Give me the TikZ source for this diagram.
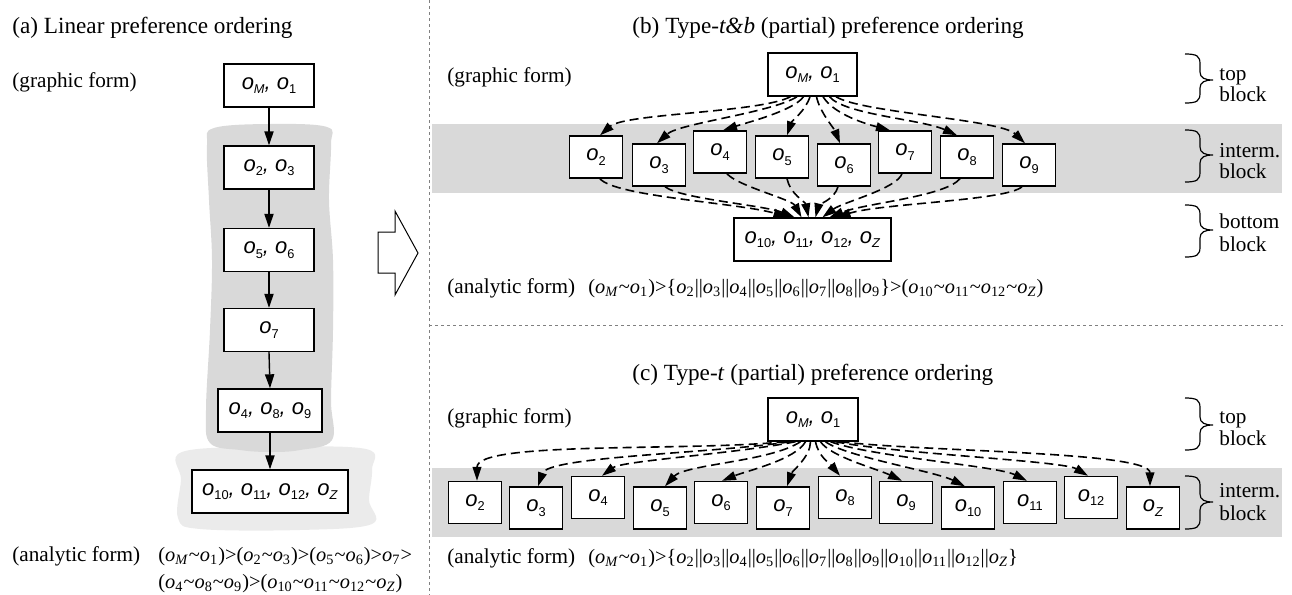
\documentclass[tikz,border=0pt]{standalone}
\usepackage{fontspec}
\setmainfont{Liberation Serif}
\newfontfamily\boxfont{Liberation Sans}
\usetikzlibrary{arrows.meta,calc}
\newdimen\pxu \pxu=0.5pt
\newcommand\bo[1]{\textit{o}\textsubscript{#1}}
\newcommand\so[1]{o\raisebox{-0.2em}{\fontsize{6.4}{7}\selectfont\upshape #1}}
\newcommand\tld{\textasciitilde}
\newcommand\rbr[4]{%
 \draw[line width=0.6pt] (#1,#2) .. controls ({#1+12},#2) and ({#1+15},{#2+2}) .. ({#1+15},{#2+10}) -- ({#1+15},{#4-8}) .. controls ({#1+15},{#4-2}) and ({#1+20},#4) .. ({#1+28},#4) .. controls ({#1+20},#4) and ({#1+15},{#4+2}) .. ({#1+15},{#4+8}) -- ({#1+15},{#3-10}) .. controls ({#1+15},{#3-2}) and ({#1+12},#3) .. (#1,#3);}
\definecolor{band}{HTML}{D9D9D9}
\definecolor{lband}{HTML}{EBEBEB}
\begin{document}
\begin{tikzpicture}[x=0.5pt,y=-0.5pt,
  font=\fontsize{10.6}{12.7}\selectfont,
  box/.style={draw, line width=0.7pt, fill=white, inner sep=0pt, minimum height=43\pxu,
     font=\boxfont\itshape\fontsize{11}{13}\selectfont},
  sbox/.style={box, minimum width=53\pxu, minimum height=42\pxu},
  sedge/.style={line width=0.7pt, -{Triangle[length=7pt,width=4.6pt]}},
  dedge/.style={line width=0.8pt, dash pattern=on 4.5pt off 2.5pt, -{Triangle[length=7pt,width=4.4pt]}},
  sepline/.style={draw=gray, line width=0.5pt, dash pattern=on 1.5pt off 1.5pt},
  lbl/.style={anchor=base west, inner sep=0pt},
  ttl/.style={lbl, font=\fontsize{11.6}{14}\selectfont},
  frm/.style={lbl, font=\fontsize{10.2}{12}\selectfont}]
\useasboundingbox (0,0) rectangle (1292,595);
% ---------- separators
\draw[sepline] (429,0) -- (429,595);
\draw[sepline] (429,325) -- (1283,325);
% ---------- (a)
\node[ttl] (ta) at (12,33) {(a) Linear preference ordering};
\node[lbl] (ga) at (12,87) {(graphic form)};
\fill[lband] plot[smooth cycle, tension=0.6] coordinates {(182,452) (270,447) (366,449) (372,470) (369,500) (372,524) (300,530) (200,529) (178,518) (181,480)};
\fill[band] plot[smooth cycle, tension=0.6] coordinates {(214,128) (270,124) (327,127) (331,145) (329,200) (333,260) (333,330) (331,400) (332,440) (300,450) (270,452) (240,450) (210,443) (206,410) (210,330) (212,260) (209,200) (207,145)};
\node[box, minimum width=90\pxu] (a1) at (269,85.5) {\so{\textit{M}}, \so{1}};
\node[box, minimum width=90\pxu] (a2) at (269,167.5) {\so{2}, \so{3}};
\node[box, minimum width=90\pxu] (a3) at (269,250) {\so{5}, \so{6}};
\node[box, minimum width=90\pxu] (a4) at (269,330) {\so{7}};
\node[box, minimum width=104\pxu] (a5) at (270,410.5) {\so{4}, \so{8}, \so{9}};
\node[box, minimum width=156\pxu] (a6) at (270,491.5) {\so{10}, \so{11}, \so{12}, \so{\textit{Z}}};
\draw[sedge] (a1.south) -- (a2.north);
\draw[sedge] (a2.south) -- (a3.north);
\draw[sedge] (a3.south) -- (a4.north);
\draw[sedge] (a4.south) -- (a5.north);
\draw[sedge] (a5.south) -- (a6.north);
\node[lbl] (aa) at (12,561) {(analytic form)};
\node[frm] (fa1) at (158,561) {(\bo{\textit{M}}\tld\bo{1})>(\bo{2}\tld\bo{3})>(\bo{5}\tld\bo{6})>\bo{7}>};
\node[frm] (fa2) at (158,588) {(\bo{4}\tld\bo{8}\tld\bo{9})>(\bo{10}\tld\bo{11}\tld\bo{12}\tld\bo{\textit{Z}})};
% hollow arrow
\draw[line width=0.5pt] (378,232) -- (395,232) -- (395,211) -- (418,253) -- (395,295) -- (395,273) -- (378,273) -- cycle;
% ---------- (b)
\fill[band] (432,124) rectangle (1282,193);
\node[ttl] (tbt) at (632,33) {(b) Type-\textit{t\&b} (partial) preference ordering};
\node[lbl] (gb) at (447,82) {(graphic form)};
\node[box, minimum width=89\pxu] (tb) at (812.5,74.5) {\so{\textit{M}}, \so{1}};
\node[sbox] (b2) at (596,157) {\so{2}};
\node[sbox] (b3) at (659,165) {\so{3}};
\node[sbox] (b4) at (720,152) {\so{4}};
\node[sbox] (b5) at (782,157) {\so{5}};
\node[sbox] (b6) at (844,165) {\so{6}};
\node[sbox] (b7) at (905,152) {\so{7}};
\node[sbox] (b8) at (967,157) {\so{8}};
\node[sbox] (b9) at (1029,165) {\so{9}};
\node[box, minimum width=157\pxu] (bb) at (812.5,239.5) {\so{10}, \so{11}, \so{12}, \so{\textit{Z}}};
\draw[dedge] ($(tb.south)+(-22,0)$) .. controls +(-30,16) and +(25,-22) .. ($(b2.north)+(4,0)$);
\draw[dedge] ($(tb.south)+(-15.5,0)$) .. controls +(-25,16) and +(22,-20) .. ($(b3.north)+(-2,0)$);
\draw[dedge] ($(tb.south)+(-9,0)$) .. controls +(-10,14) and +(25,-8) .. ($(b4.north)+(3,0)$);
\draw[dedge] ($(tb.south)+(-2.5,0)$) .. controls +(-5,15) and +(5,-15) .. ($(b5.north)+(5,0)$);
\draw[dedge] ($(tb.south)+(4,0)$) .. controls +(3,15) and +(-6,-15) .. ($(b6.north)+(-4,0)$);
\draw[dedge] ($(tb.south)+(10.5,0)$) .. controls +(10,16) and +(-30,-8) .. ($(b7.north)+(-15,0)$);
\draw[dedge] ($(tb.south)+(17,0)$) .. controls +(15,18) and +(-35,-16) .. ($(b8.north)+(-10,0)$);
\draw[dedge] ($(tb.south)+(23.5,0)$) .. controls +(25,16) and +(-25,-24) .. ($(b9.north)+(-4,0)$);
\draw[dedge] ($(b2.south)+(4,0)$) .. controls +(15,18) and +(-45,-14) .. ($(bb.north)+(-25,0)$);
\draw[dedge] ($(b3.south)+(6,0)$) .. controls +(15,12) and +(-30,-12) .. ($(bb.north)+(-18,0)$);
\draw[dedge] ($(b4.south)+(7,0)$) .. controls +(10,12) and +(-10,-18) .. ($(bb.north)+(-11,0)$);
\draw[dedge] ($(b5.south)+(5,0)$) .. controls +(3,15) and +(-3,-15) .. ($(bb.north)+(-4,0)$);
\draw[dedge] ($(b6.south)+(-6,0)$) .. controls +(-3,12) and +(3,-12) .. ($(bb.north)+(3,0)$);
\draw[dedge] ($(b7.south)+(-3,0)$) .. controls +(-5,15) and +(20,-15) .. ($(bb.north)+(10,0)$);
\draw[dedge] ($(b8.south)+(-7,0)$) .. controls +(-15,18) and +(35,-14) .. ($(bb.north)+(17,0)$);
\draw[dedge] ($(b9.south)+(-7,0)$) .. controls +(-15,14) and +(45,-14) .. ($(bb.north)+(24,0)$);
\node[lbl] (ab) at (447,293) {(analytic form)};
\node[frm] (fb) at (588,293) {(\bo{\textit{M}}\tld\bo{1})>\{\bo{2}||\bo{3}||\bo{4}||\bo{5}||\bo{6}||\bo{7}||\bo{8}||\bo{9}\}>(\bo{10}\tld\bo{11}\tld\bo{12}\tld\bo{\textit{Z}})};
\rbr{1185}{54}{103}{80}
\rbr{1185}{130}{182}{155}
\rbr{1185}{205}{257}{230}
\node[lbl] (k1) at (1219,80) {top};
\node[lbl] (k2) at (1219,101) {block};
\node[lbl] (k3) at (1219,157) {interm.};
\node[lbl] (k4) at (1219,178) {block};
\node[lbl] (k5) at (1219,228) {bottom};
\node[lbl] (k6) at (1219,251) {block};
% ---------- (c)
\fill[band] (432,468) rectangle (1282,537);
\node[ttl] (tct) at (632,380) {(c) Type-\textit{t} (partial) preference ordering};
\node[lbl] (gc) at (447,423) {(graphic form)};
\node[box, minimum width=90\pxu] (tc) at (813,419.5) {\so{\textit{M}}, \so{1}};
\node[sbox] (c2) at (475,502.5) {\so{2}};
\node[sbox] (c3) at (536,508) {\so{3}};
\node[sbox] (c4) at (598,497.5) {\so{4}};
\node[sbox] (c5) at (660,508) {\so{5}};
\node[sbox] (c6) at (721,502.5) {\so{6}};
\node[sbox] (c7) at (783,508) {\so{7}};
\node[sbox] (c8) at (845,497.5) {\so{8}};
\node[sbox] (c9) at (906,502.5) {\so{9}};
\node[sbox] (c10) at (968,508) {\so{10}};
\node[sbox] (c11) at (1030,502.5) {\so{11}};
\node[sbox] (c12) at (1091,497.5) {\so{12}};
\node[sbox] (cZ) at (1153,508) {\so{\textit{Z}}};
\draw[dedge] ($(tc.south)+(-27.5,0)$) .. controls +(-100,10) and +(0,-40) .. ($(c2.north)+(2,0)$);
\draw[dedge] ($(tc.south)+(-22.5,0)$) .. controls +(-80,12) and +(10,-30) .. ($(c3.north)+(2,0)$);
\draw[dedge] ($(tc.south)+(-17.5,0)$) .. controls +(-60,12) and +(20,-15) .. ($(c4.north)+(4,0)$);
\draw[dedge] ($(tc.south)+(-12.5,0)$) .. controls +(-30,20) and +(20,-22) .. ($(c5.north)+(5,0)$);
\draw[dedge] ($(tc.south)+(-7.5,0)$) .. controls +(-10,18) and +(25,-10) .. ($(c6.north)+(1,0)$);
\draw[dedge] ($(tc.south)+(-2.5,0)$) .. controls +(0,15) and +(5,-15) .. ($(c7.north)+(4,0)$);
\draw[dedge] ($(tc.south)+(2.5,0)$) .. controls +(3,15) and +(-10,-12) .. ($(c8.north)+(-5,0)$);
\draw[dedge] ($(tc.south)+(7.5,0)$) .. controls +(10,15) and +(-25,-12) .. ($(c9.north)+(-4,0)$);
\draw[dedge] ($(tc.south)+(12.5,0)$) .. controls +(20,15) and +(-30,-15) .. ($(c10.north)+(-3,0)$);
\draw[dedge] ($(tc.south)+(17.5,0)$) .. controls +(40,15) and +(-30,-15) .. ($(c11.north)+(-3,0)$);
\draw[dedge] ($(tc.south)+(22.5,0)$) .. controls +(60,12) and +(-25,-15) .. ($(c12.north)+(-3,0)$);
\draw[dedge] ($(tc.south)+(27.5,0)$) .. controls +(80,10) and +(0,-35) .. ($(cZ.north)+(-3,0)$);
\node[lbl] (ac) at (447,563) {(analytic form)};
\node[frm] (fc) at (588,563) {(\bo{\textit{M}}\tld\bo{1})>\{\bo{2}||\bo{3}||\bo{4}||\bo{5}||\bo{6}||\bo{7}||\bo{8}||\bo{9}||\bo{10}||\bo{11}||\bo{12}||\bo{\textit{Z}}\}};
\rbr{1185}{398}{450}{425}
\rbr{1185}{476}{529}{502}
\node[lbl] (k7) at (1219,423) {top};
\node[lbl] (k8) at (1219,445) {block};
\node[lbl] (k9) at (1219,497) {interm.};
\node[lbl] (k10) at (1219,520) {block};
\end{tikzpicture}
\end{document}
